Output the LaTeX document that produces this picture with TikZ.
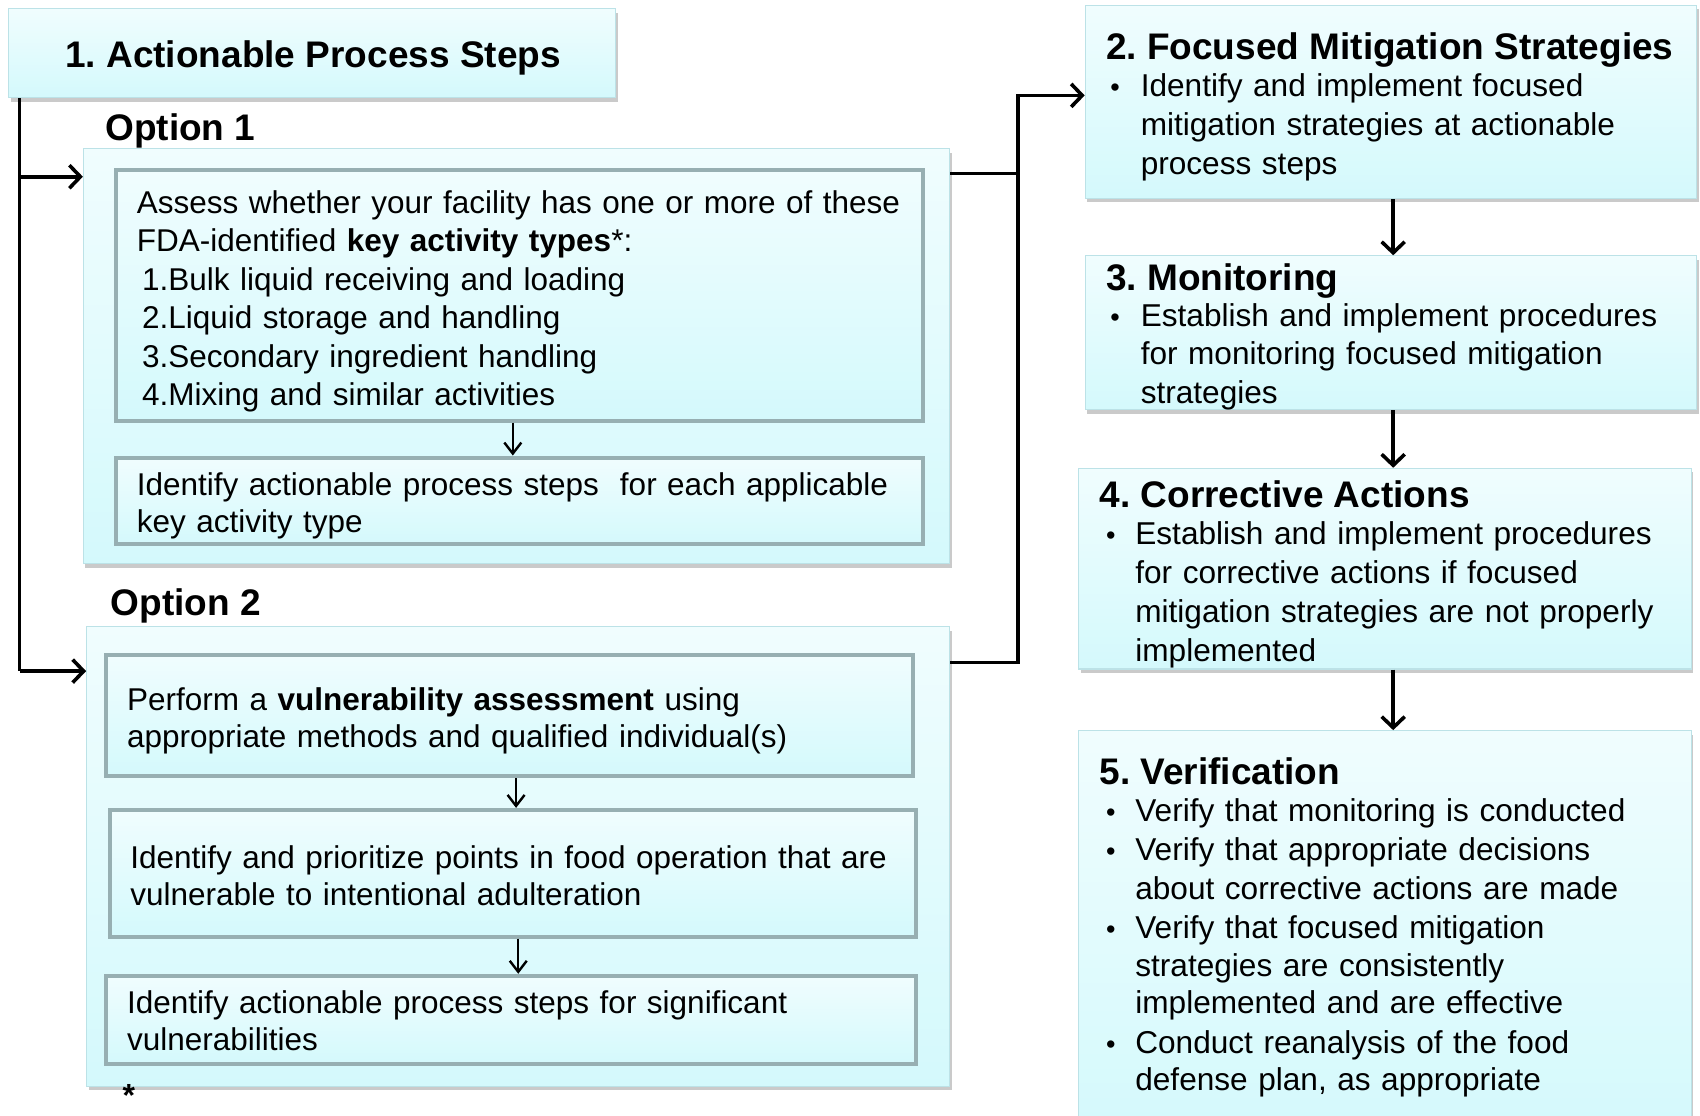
\documentclass[tikz,border=0pt]{standalone}
\usepackage{fontspec}
\setmainfont{Liberation Sans}
\usetikzlibrary{arrows.meta,shadows,fit}
\definecolor{boxtop}{HTML}{F0FDFE}
\definecolor{boxbot}{HTML}{D4F9FC}
\definecolor{outerline}{HTML}{BCE2E7}
\definecolor{innerline}{HTML}{97AFB2}
\tikzset{
  outerbox/.style={draw=outerline, line width=1.2pt, top color=boxtop, bottom color=boxbot, inner sep=0pt,
    drop shadow={shadow xshift=2pt, shadow yshift=-4pt, opacity=0.35, fill=black!60}},
  innerbox/.style={draw=innerline, line width=4pt, top color=boxtop, bottom color=boxbot, inner sep=0pt},
  titletext/.style={font=\fontsize{37}{40}\selectfont\bfseries\frenchspacing, anchor=base west, inner sep=0pt},
  bodytext/.style={font=\fontsize{31.5}{38.4}\selectfont\frenchspacing, anchor=base west, inner sep=0pt, align=left, text width=900pt},
  bodyB/.style={bodytext, font=\fontsize{31.5}{37}\selectfont\frenchspacing},
  bodyR/.style={bodytext, font=\fontsize{31.6}{39}\selectfont\frenchspacing},
  bulletmark/.style={font=\fontsize{27}{36}\selectfont, anchor=base west, inner sep=0pt},
  conn/.style={line width=3.6pt, line join=miter},
  arr/.style={conn, -{Straight Barb[length=11pt,width=23pt,line width=3.6pt]}},
  sarr/.style={line width=2pt, -{Straight Barb[length=11pt,width=17pt,line width=2.4pt]}},
}
\begin{document}
\frenchspacing
\begin{tikzpicture}[x=1.0842pt, y=-1.0842pt]
\useasboundingbox (0,0) rectangle (1568,1029);
\clip (0,0) rectangle (1568,1029);

% ---- left column ----
\node[outerbox, fit={(8,8) (568,90)}] (b1) {};
\node[titletext] (t1) at (60,62) {1. Actionable Process Steps};

\node[titletext] (op1) at (97,130) {Option 1};
\node[outerbox, fit={(77,137) (876,520)}] (o1) {};
\node[innerbox, fit={(107,157) (851,388)}] (ia) {};
\node[bodytext] (ta) at (126,197) {Assess whether your facility has one or more of these\\
FDA-identified \textbf{key activity types}*:\\
\,1.Bulk liquid receiving and loading\\
\,2.Liquid storage and handling\\
\,3.Secondary ingredient handling\\
\,4.Mixing and similar activities};
\node[innerbox, fit={(107,422) (851,502)}] (ib) {};
\node[bodyB] (tb) at (126,457) {Identify actionable process steps\ \ for each applicable\\
key activity type};

\node[titletext] (op2) at (102,568) {Option 2};
\node[outerbox, fit={(80,578) (876,1002)}] (o2) {};
\node[innerbox, fit={(98,604) (842,716)}] (ic) {};
\node[bodyB] (tc) at (117,655) {Perform a \textbf{vulnerability assessment} using\\
appropriate methods and qualified individual(s)};
\node[innerbox, fit={(101,747) (845,864)}] (id) {};
\node[bodyB] (td) at (120,801) {Identify and prioritize points in food operation that are\\
vulnerable to intentional adulteration};
\node[innerbox, fit={(98,900) (845,981)}] (ie) {};
\node[bodyB] (te) at (117,935) {Identify actionable process steps for significant\\
vulnerabilities};

% ---- right column ----
\node[outerbox, fit={(1001,5) (1565,183)}] (b2) {};
\node[titletext] (t2) at (1020,55) {2. Focused Mitigation Strategies};
\node[bulletmark] (u2) at (1024,89) {•};
\node[bodyR] (x2) at (1052,89) {Identify and implement focused\\
mitigation strategies at actionable\\
process steps};

\node[outerbox, fit={(1001,236) (1565,378)}] (b3) {};
\node[titletext] (t3) at (1020,268) {3. Monitoring};
\node[bulletmark] (u3) at (1024,301) {•};
\node[bodytext, font=\fontsize{31.6}{38.5}\selectfont] (x3) at (1052,301) {Establish and implement procedures\\
for monitoring focused mitigation\\
strategies};

\node[outerbox, fit={(995,432) (1560,617)}] (b4) {};
\node[titletext] (t4) at (1014,468) {4. Corrective Actions};
\node[bulletmark] (u4) at (1020,502) {•};
\node[bodyR] (x4) at (1047,502) {Establish and implement procedures\\
for corrective actions if focused\\
mitigation strategies are not properly\\
implemented};

\node[outerbox, fit={(995,674) (1560,1045)}] (b5) {};
\node[titletext] (t5) at (1014,724) {5. Verification};
\node[bulletmark] (u5a) at (1020,758) {•};
\node[bodyR] (x5a) at (1047,758) {Verify that monitoring is conducted};
\node[bulletmark] (u5b) at (1020,794) {•};
\node[bodyR] (x5b) at (1047,794) {Verify that appropriate decisions\\
about corrective actions are made};
\node[bulletmark] (u5c) at (1020,866) {•};
\node[bodytext, font=\fontsize{31.6}{37.5}\selectfont] (x5c) at (1047,866) {Verify that focused mitigation\\
strategies are consistently\\
implemented and are effective};
\node[bulletmark] (u5d) at (1020,972) {•};
\node[bodytext, font=\fontsize{31.6}{37}\selectfont] (x5d) at (1047,972) {Conduct reanalysis of the food\\
defense plan, as appropriate};

\node[font=\fontsize{32}{32}\selectfont\bfseries, anchor=base west, inner sep=0pt] (ast) at (113,1021) {*};

% ---- connectors ----
\coordinate (la) at (18,163);
\coordinate (lb) at (18,619);
\draw[conn] (b1.south -| la) -- (lb);
\draw[arr] (la) -- (la -| o1.west);
\draw[arr] (lb) -- (lb -| o2.west);

\coordinate (ra) at (939,160);
\coordinate (rb) at (939,611);
\coordinate (rt) at (939,88);
\draw[conn] (ra -| o1.east) -- (ra);
\draw[arr] (rb -| o2.east) -- (rb) -- (rt) -- (rt -| b2.west);

\coordinate (cx) at (1285,0);
\draw[arr] (b2.south -| cx) -- (b3.north -| cx);
\draw[arr] (b3.south -| cx) -- (b4.north -| cx);
\draw[arr] (b4.south -| cx) -- (b5.north -| cx);

\coordinate (ix1) at (473,0);
\coordinate (ix2) at (476,0);
\coordinate (ix3) at (478,0);
\draw[sarr] (ia.south -| ix1) -- (ib.north -| ix1);
\draw[sarr] (ic.south -| ix2) -- (id.north -| ix2);
\draw[sarr] (id.south -| ix3) -- (ie.north -| ix3);
\end{tikzpicture}
\end{document}
